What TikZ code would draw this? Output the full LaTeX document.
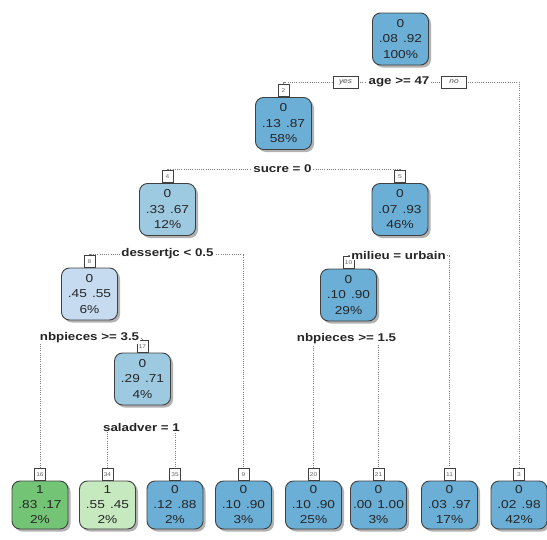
\documentclass[tikz,border=0pt]{standalone}
\usepackage{fontspec}
\setmainfont{Liberation Sans}[FakeStretch=1.19]
\usetikzlibrary{shadows}
\pgfdeclarelayer{background}
\pgfsetlayers{background,main}
\definecolor{bdark}{HTML}{6BAED6}
\definecolor{bmid}{HTML}{9ECAE1}
\definecolor{blight}{HTML}{C6DBEF}
\definecolor{gdark}{HTML}{74C476}
\definecolor{glight}{HTML}{C7E9C0}
\definecolor{edge}{HTML}{404040}
\begin{document}
\begin{tikzpicture}[x=1pt,y=-1pt,
  tnode/.style={draw=edge, line width=0.9pt, rounded corners=8pt, minimum width=56pt,
    minimum height=52pt, align=center, inner sep=1pt, text=black!85,
    font=\fontsize{11.5}{15.5}\selectfont,
    drop shadow={shadow xshift=2.5pt, shadow yshift=-2.5pt, fill=black, opacity=0.3}},
  leaf/.style={tnode, minimum height=48pt, font=\fontsize{11.5}{15}\selectfont},
  lab/.style={draw=edge, line width=0.6pt, fill=white, anchor=south, minimum height=12pt,
    minimum width=11pt, inner sep=1pt, text=black!60, font=\fontsize{5.5}{5.5}\selectfont},
  split/.style={fill=white, inner sep=1.2pt, text=black!85, font=\bfseries\fontsize{11.2}{12}\selectfont},
  yn/.style={draw=edge, line width=0.6pt, fill=white, minimum height=12pt, minimum width=25pt,
    inner sep=1pt, text=black!70, font=\itshape\fontsize{7}{7}\selectfont},
  conn/.style={draw=black!50, line width=0.8pt, dash pattern=on 1pt off 1.2pt}
]
\useasboundingbox (0,0) rectangle (547,539);
\newcommand{\pp}[2]{#1\hspace{0.45em}#2}
% internal nodes
\node[tnode, fill=bdark] (n1) at (400.5,39) {0\\\pp{.08}{.92}\\100\%};
\node[tnode, fill=bdark] (n2) at (283.5,123.5) {0\\\pp{.13}{.87}\\58\%};
\node[tnode, fill=bmid] (n4) at (167.5,209.5) {0\\\pp{.33}{.67}\\12\%};
\node[tnode, fill=bdark] (n5) at (400,209.5) {0\\\pp{.07}{.93}\\46\%};
\node[tnode, fill=blight] (n8) at (89.5,294) {0\\\pp{.45}{.55}\\6\%};
\node[tnode, fill=bdark] (n10) at (348.5,295) {0\\\pp{.10}{.90}\\29\%};
\node[tnode, fill=bmid] (n17) at (142.5,379) {0\\\pp{.29}{.71}\\4\%};
% leaves
\node[leaf, fill=gdark] (n16) at (40,505) {1\\\pp{.83}{.17}\\2\%};
\node[leaf, fill=glight] (n34) at (107.5,505) {1\\\pp{.55}{.45}\\2\%};
\node[leaf, fill=bdark] (n35) at (175,505) {0\\\pp{.12}{.88}\\2\%};
\node[leaf, fill=bdark] (n9) at (243.5,505) {0\\\pp{.10}{.90}\\3\%};
\node[leaf, fill=bdark] (n20) at (313.5,505) {0\\\pp{.10}{.90}\\25\%};
\node[leaf, fill=bdark] (n21) at (378.5,505) {0\\\pp{.00}{1.00}\\3\%};
\node[leaf, fill=bdark] (n11) at (449.5,505) {0\\\pp{.03}{.97}\\17\%};
\node[leaf, fill=bdark] (n3) at (519,505) {0\\\pp{.02}{.98}\\42\%};
% number labels
\node[lab] (l2) at (n2.north) {2};
\node[lab] (l4) at (n4.north) {4};
\node[lab] (l5) at (n5.north) {5};
\node[lab] (l8) at (n8.north) {8};
\node[lab] (l10) at (n10.north) {10};
\node[lab] (l17) at (n17.north) {17};
\node[lab] (l16) at (n16.north) {16};
\node[lab] (l34) at (n34.north) {34};
\node[lab] (l35) at (n35.north) {35};
\node[lab] (l9) at (n9.north) {9};
\node[lab] (l20) at (n20.north) {20};
\node[lab] (l21) at (n21.north) {21};
\node[lab] (l11) at (n11.north) {11};
\node[lab] (l3) at (n3.north) {3};
% split labels
\node[split] (s1) at (399,82) {age >= 47};
\node[yn] (yes) at (345.5,82) {yes};
\node[yn] (no) at (454,82) {no};
\node[split] (s2) at (282.5,169) {sucre = 0};
\node[split] (s4) at (167.5,254) {dessertjc < 0.5};
\node[split] (s5) at (398.5,255) {milieu = urbain};
\node[split] (s8) at (89.5,338) {nbpieces >= 3.5};
\node[split] (s10) at (346.5,339) {nbpieces >= 1.5};
\node[split] (s17) at (141.5,427) {saladver = 1};
% connectors
\begin{pgfonlayer}{background}
\draw[conn] (l2.north) -- (l2.north |- s1) -- (l3.north |- s1) -- (l3.north);
\draw[conn] (l4.north) -- (l4.north |- s2) -- (l5.north |- s2) -- (l5.north);
\draw[conn] (l8.north) -- (l8.north |- s4) -- (l9.north |- s4) -- (l9.north);
\draw[conn] (l10.north) -- (l10.north |- s5) -- (l11.north |- s5) -- (l11.north);
\draw[conn] (l16.north) -- (l16.north |- s8) -- (l17.north |- s8) -- (l17.north);
\draw[conn] (l20.north) -- (l20.north |- s10) -- (l21.north |- s10) -- (l21.north);
\draw[conn] (l34.north) -- (l34.north |- s17) -- (l35.north |- s17) -- (l35.north);
\end{pgfonlayer}
\end{tikzpicture}
\end{document}
